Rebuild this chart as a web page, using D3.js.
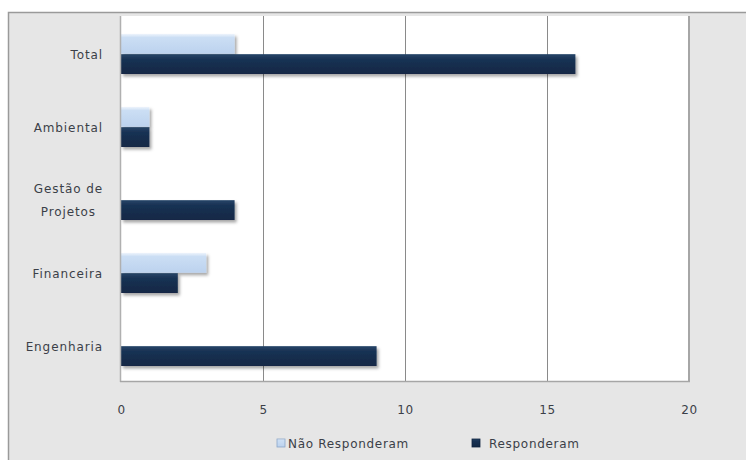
<!DOCTYPE html>
<html>
<head>
<meta charset="utf-8">
<script src="https://cdn.jsdelivr.net/npm/d3@7"></script>
<style>
  html, body { margin: 0; padding: 0; background: #fff; }
  svg { display: block; }
  text { font-family: "DejaVu Sans", Verdana, sans-serif; fill: #3b3f48; }
</style>
</head>
<body>
<svg id="chart" width="746" height="460"></svg>
<script>
// Categories, top to bottom
const categories = ["Total", "Ambiental", "Gestão de Projetos", "Financeira", "Engenharia"];
// Series
const seriesNames = ["Não Responderam", "Responderam"];
const naoResponderam = [4, 1, 0, 3, 0];
const responderam = [16, 1, 4, 2, 9];
const xTicks = [0, 5, 10, 15, 20];

const seriesValues = [naoResponderam, responderam];
const rows = categories.map((c, i) => ({
  category: c,
  values: seriesNames.map((s, j) => ({ series: s, value: seriesValues[j][i] }))
}));

const svg = d3.select("#chart");
const W = 746, H = 460;
const plot = { left: 121, right: 689, top: 16, bottom: 381 };

const defs = svg.append("defs");
const gLight = defs.append("linearGradient").attr("id", "gLight")
  .attr("x1", 0).attr("y1", 0).attr("x2", 0).attr("y2", 1);
gLight.append("stop").attr("offset", "0%").attr("stop-color", "#eef4fc");
gLight.append("stop").attr("offset", "18%").attr("stop-color", "#cbdef4");
gLight.append("stop").attr("offset", "100%").attr("stop-color", "#bcd2ee");
const gDark = defs.append("linearGradient").attr("id", "gDark")
  .attr("x1", 0).attr("y1", 0).attr("x2", 0).attr("y2", 1);
gDark.append("stop").attr("offset", "0%").attr("stop-color", "#284668");
gDark.append("stop").attr("offset", "25%").attr("stop-color", "#183254");
gDark.append("stop").attr("offset", "100%").attr("stop-color", "#122845");
const shadow = defs.append("filter").attr("id", "shadow")
  .attr("x", "-10%").attr("y", "-30%").attr("width", "130%").attr("height", "180%");
shadow.append("feDropShadow").attr("dx", 2).attr("dy", 2.5)
  .attr("stdDeviation", 1.6).attr("flood-color", "#000").attr("flood-opacity", 0.35);

const fills = { "Não Responderam": "url(#gLight)", "Responderam": "url(#gDark)" };

// Outer chart frame
svg.append("rect").attr("x", 8.5).attr("y", 12.5)
  .attr("width", W).attr("height", H)
  .attr("fill", "#e6e6e6").attr("stroke", "#9a9a9a").attr("stroke-width", 1.5);

// Scales
const x = d3.scaleLinear().domain([0, 20]).range([plot.left, plot.right]);
const y = d3.scaleBand().domain(categories).range([plot.top, plot.bottom]).padding(0);
const inner = d3.scaleBand().domain(seriesNames)
  .range([y.bandwidth() * 0.24, y.bandwidth() * 0.80]).padding(0.02);

// Plot area
svg.append("rect").attr("x", plot.left).attr("y", plot.top)
  .attr("width", plot.right - plot.left).attr("height", plot.bottom - plot.top)
  .attr("fill", "#ffffff");

// Vertical gridlines
svg.append("g").selectAll("line").data(xTicks.filter(t => t > 0 && t < 20)).join("line")
  .attr("x1", d => Math.round(x(d)) + 0.5).attr("x2", d => Math.round(x(d)) + 0.5)
  .attr("y1", plot.top).attr("y2", plot.bottom)
  .attr("stroke", "#8a8a8a").attr("stroke-width", 1);

// Bars
const groups = svg.append("g").selectAll("g").data(rows).join("g")
  .attr("transform", d => `translate(0,${y(d.category)})`);
groups.selectAll("rect").data(d => d.values.filter(v => v.value > 0)).join("rect")
  .attr("x", x(0))
  .attr("y", d => inner(d.series))
  .attr("width", d => x(d.value) - x(0))
  .attr("height", inner.bandwidth())
  .attr("fill", d => fills[d.series])
  .attr("filter", "url(#shadow)");

// Plot borders
svg.append("line").attr("x1", plot.left - 0.5).attr("x2", plot.left - 0.5)
  .attr("y1", plot.top).attr("y2", plot.bottom + 1)
  .attr("stroke", "#b0b0b0").attr("stroke-width", 1.5);
svg.append("line").attr("x1", plot.right).attr("x2", plot.right)
  .attr("y1", plot.top).attr("y2", plot.bottom + 1)
  .attr("stroke", "#a6a6a6").attr("stroke-width", 2);
svg.append("line").attr("x1", plot.left - 1).attr("x2", plot.right + 1)
  .attr("y1", plot.bottom + 0.5).attr("y2", plot.bottom + 0.5)
  .attr("stroke", "#a6a6a6").attr("stroke-width", 1.5);

// X axis tick labels
const xAxis = d3.axisBottom(x).tickValues(xTicks).tickSize(0).tickPadding(0);
const gx = svg.append("g").attr("transform", `translate(0,${plot.bottom + 24})`).call(xAxis);
gx.select(".domain").remove();
gx.selectAll("text").attr("font-size", 12).attr("fill", "#3b3f48")
  .attr("font-family", "DejaVu Sans, sans-serif").style("letter-spacing", "0.6px");

// Category labels
const labelRight = 103;
const catLabels = svg.append("g");
rows.forEach(r => {
  const cy = y(r.category) + y.bandwidth() / 2 + 2;
  const lines = r.category === "Gestão de Projetos" ? ["Gestão de", "Projetos"] : [r.category];
  const t = catLabels.append("text")
    .attr("font-size", 12).style("letter-spacing", "0.9px")
    .attr("dominant-baseline", "central");
  lines.forEach((ln, i) => {
    t.append("tspan").attr("x", 0)
      .attr("y", cy + (i - (lines.length - 1) / 2) * 23)
      .text(ln);
  });
  if (lines.length === 1) {
    t.attr("text-anchor", "end").selectAll("tspan").attr("x", labelRight);
  } else {
    const w = t.node().getBBox().width;
    t.attr("text-anchor", "middle").selectAll("tspan").attr("x", labelRight - w / 2);
  }
});

// Legend
const legend = svg.append("g").attr("transform", "translate(0,444)");
const legendX = [277, 472];
seriesNames.forEach((s, i) => {
  const g = legend.append("g").attr("transform", `translate(${legendX[i]},0)`);
  g.append("rect").attr("x", 0).attr("y", -5).attr("width", 8).attr("height", 8)
    .attr("fill", fills[s]).attr("stroke", i === 0 ? "#8aa6c8" : "#0f2340").attr("stroke-width", 0.8);
  g.append("text").attr("x", i === 0 ? 11 : 17).attr("y", 0)
    .attr("dominant-baseline", "central")
    .attr("font-size", 12).style("letter-spacing", "0.7px")
    .text(s);
});
</script>
</body>
</html>
